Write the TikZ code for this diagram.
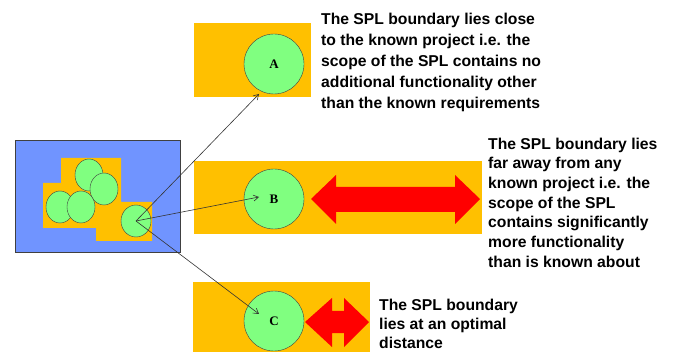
\documentclass[tikz,border=0pt]{standalone}
\usepackage{fontspec}
\setmainfont{Liberation Sans}
\newfontfamily\lblfont{Liberation Serif}
\usetikzlibrary{arrows.meta,shapes.geometric}

\definecolor{scopeorange}{HTML}{FFC000}
\definecolor{domainblue}{HTML}{7094FF}
\definecolor{projgreen}{HTML}{80FF80}

\tikzset{
    scopebox/.style={fill=scopeorange, draw=none},
    project/.style={circle, draw=black!75, fill=projgreen, minimum size=60pt, inner sep=0pt,
        font=\lblfont\bfseries\fontsize{13}{13}\selectfont},
    known/.style={ellipse, draw=black!75, fill=projgreen, minimum width=28pt, minimum height=32pt, inner sep=0pt},
    spread/.style={fill=red, draw=none},
    note/.style={anchor=north west, align=left, inner sep=0pt, font=\bfseries\fontsize{15.7}{#1}\selectfont},
    link/.style={-{Straight Barb[length=5pt,width=6pt]}, draw=black!80, line width=0.6pt}
}

\begin{document}
\begin{tikzpicture}[x=1pt, y=-1pt]
    \useasboundingbox (0,0) rectangle (674,352);

    % existing domain with the known projects
    \draw[fill=domainblue, draw=black!75, line width=0.8pt] (15,140) rectangle (180,252);
    \fill[scopeorange] (61,158) -- (121,158) -- (121,202) -- (152,202) -- (152,241)
        -- (96,241) -- (96,228) -- (43,228) -- (43,183) -- (61,183) -- cycle;
    \node[known] (k1) at (89,175) {};
    \node[known] (k2) at (104,189) {};
    \node[known] (k3) at (60,207) {};
    \node[known] (k4) at (81,207) {};
    \node[known, minimum width=30pt] (src) at (136,221) {};

    % the three candidate SPL boundaries
    \fill[scopebox] (194,23) rectangle (311,97);
    \node[project] (A) at (274,64) {A};

    \fill[scopebox] (194,161) rectangle (482,234);
    \node[project] (B) at (274,199) {B};
    \fill[spread] (311,199) -- (336,175) -- (336,187) -- (455,187) -- (455,175) -- (480,199)
        -- (455,224) -- (455,212) -- (336,212) -- (336,224) -- cycle;

    \fill[scopebox] (193,282) rectangle (370,352);
    \node[project] (C) at (274,321) {C};
    \fill[spread] (305,322) -- (332,298) -- (332,311) -- (344,311) -- (344,298) -- (369,322)
        -- (344,347) -- (344,333) -- (332,333) -- (332,347) -- cycle;

    \coordinate (tipA) at (259,94);
    \coordinate (tipB) at (259,197);
    \coordinate (tipC) at (259,314);
    \draw[link] (src.center) -- (tipA);
    \draw[link] (src.center) -- (tipB);
    \draw[link] (src.center) -- (tipC);

    \node[note=21] (noteA) at (321,12.5) {The SPL boundary lies close\\to the known project i.e. the\\scope of the SPL contains no\\additional functionality other\\than the known requirements};
    \node[note=19.7] (noteB) at (488,137.5) {The SPL boundary lies\\far away from any\\known project i.e. the\\scope of the SPL\\contains significantly\\more functionality\\than is known about};
    \node[note=19] (noteC) at (379,298.5) {The SPL boundary\\lies at an optimal\\distance};
\end{tikzpicture}
\end{document}
